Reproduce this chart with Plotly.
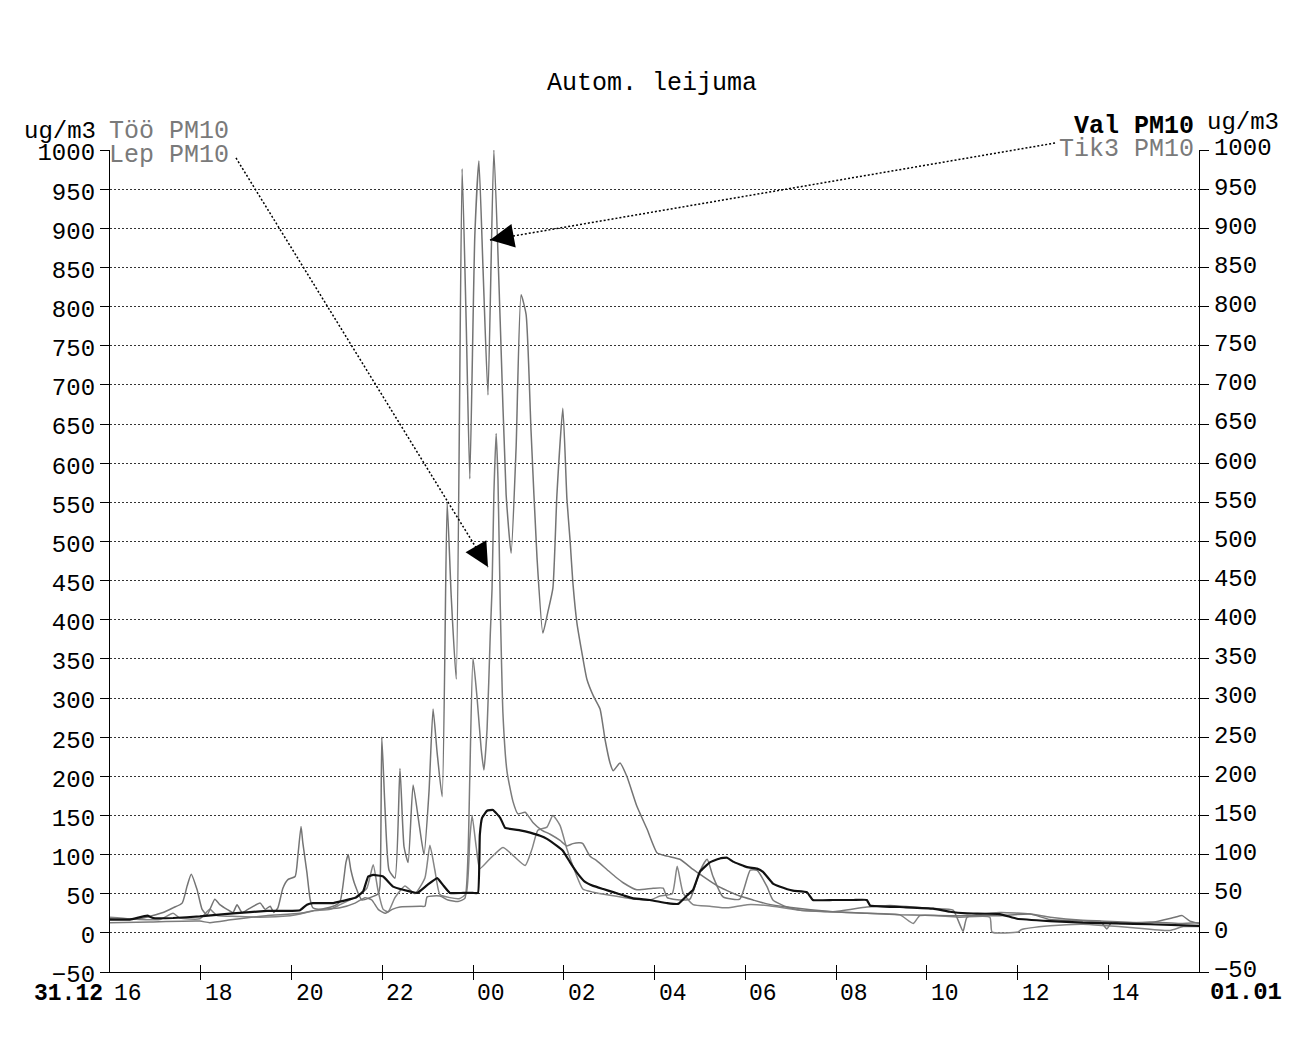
import plotly.graph_objects as go

# Time = hours after 31.12 16:00, values in ug/m3
tik3_pm10 = [(0.00,18),(0.66,18),(1.17,26),(1.39,32),(1.59,38),(1.70,60),(1.79,75),(1.92,55),(2.03,30),(2.14,23),
             (2.31,43),(2.42,36),(2.58,30),(2.71,26),(2.80,36),(2.91,26),(3.04,30),(3.31,38),(3.42,30),(3.53,34),
             (3.61,26),(3.70,32),(3.81,57),(3.92,68),(4.08,72),(4.14,98),(4.21,136),(4.25,115),(4.34,77),(4.41,43),
             (4.47,32),(4.63,30),(4.92,34),(5.07,40),(5.20,90),(5.25,100),(5.31,80),(5.40,61),(5.55,42),(5.73,45),
             (5.91,50),(5.95,60),(5.99,250),(6.06,160),(6.15,80),(6.28,70),(6.39,210),(6.48,110),(6.57,90),(6.68,189),
             (6.81,140),(6.92,100),(7.03,180),(7.12,286),(7.21,230),(7.32,174),(7.43,550),(7.52,430),(7.63,324),(7.76,976),
             (7.85,780),(7.93,580),(8.04,890),(8.13,986),(8.22,850),(8.33,687),(8.46,1000),(8.60,780),(8.73,560),(8.84,485),
             (8.95,620),(9.06,815),(9.17,790),(9.28,640),(9.41,480),(9.54,383),(9.65,410),(9.76,440),(9.85,560),(9.98,670),
             (10.07,554),(10.14,501),(10.20,448),(10.29,396),(10.40,358),(10.51,324),(10.65,303),(10.80,286),(10.91,247),(11.02,217),
             (11.09,207),(11.24,217),(11.39,200),(11.61,162),(11.84,132),(12.06,102),(12.28,98),(12.56,94),(12.85,81),(13.07,72),
             (13.38,60),(13.60,54),(13.88,47),(14.17,42),(14.48,37),(14.92,33),(15.93,27),(16.68,25),(17.41,23),(18.51,22),
             (19.61,22),(20.28,24),(20.72,17),(21.82,15),(22.92,13),(23.47,20),(23.63,22),(23.80,15),(24.00,12)]

lep_pm10 = [(0.00,13),(0.88,14),(1.98,15),(2.20,13),(2.71,17),(3.44,22),(4.19,25),(4.63,30),(5.07,32),(5.40,38),
            (5.62,45),(5.77,42),(5.91,30),(6.06,25),(6.22,30),(6.39,33),(6.83,34),(6.94,34),(6.99,46),(7.27,47),
            (7.45,42),(7.67,40),(7.82,44),(7.89,100),(7.93,200),(8.00,351),(8.09,300),(8.18,235),(8.24,208),(8.31,260),
            (8.38,380),(8.42,440),(8.46,560),(8.51,638),(8.55,580),(8.60,420),(8.66,280),(8.75,206),(8.88,168),(8.99,152),
            (9.15,154),(9.32,141),(9.52,131),(9.70,126),(9.92,118),(10.07,111),(10.20,114),(10.36,115),(10.42,114),(10.58,98),
            (10.73,92),(10.95,81),(11.13,72),(11.31,64),(11.61,55),(11.97,57),(12.19,57),(12.28,45),(12.56,42),(12.78,43),
            (13.00,79),(13.16,94),(13.29,72),(13.51,46),(13.88,43),(14.11,80),(14.26,80),(14.48,59),(14.61,42),(14.92,33),
            (15.21,29),(15.93,27),(16.68,33),(17.19,35),(18.14,31),(18.58,29),(18.80,2),(18.89,20),(19.61,26),(20.28,24),
            (20.72,20),(21.44,16),(21.82,15),(21.97,5),(22.08,14),(22.26,12),(22.92,14),(23.58,12),(24.00,13)]

too_pm10 = [(0.00,20),(0.44,18),(1.10,17),(1.39,25),(1.54,19),(1.98,18),(2.20,30),(2.36,22),(2.80,21),(3.31,20),
            (3.97,22),(4.19,24),(4.47,28),(4.85,30),(5.07,36),(5.44,47),(5.66,57),(5.80,87),(5.91,53),(6.02,30),
            (6.13,27),(6.28,45),(6.50,60),(6.72,50),(6.94,70),(7.05,112),(7.16,80),(7.27,49),(7.49,45),(7.71,44),
            (7.85,50),(7.93,120),(7.98,150),(8.07,110),(8.15,82),(8.38,95),(8.66,109),(8.88,99),(9.15,86),(9.30,107),
            (9.43,131),(9.63,135),(9.76,150),(9.92,137),(10.07,107),(10.25,78),(10.42,56),(10.65,52),(11.02,48),(11.46,44),
            (11.90,42),(12.12,47),(12.39,50),(12.50,85),(12.63,51),(12.85,36),(13.22,34),(13.60,32),(14.04,36),(14.48,35),
            (15.21,29),(15.93,27),(16.68,25),(17.41,23),(17.70,12),(17.85,22),(18.73,20),(19.39,20),(19.44,1),(20.01,1),
            (20.08,4),(20.72,9),(21.44,11),(21.97,9),(22.48,7),(23.36,3),(23.65,8),(24.00,8)]

val_pm10 = [(0.00,17),(0.44,17),(0.82,22),(0.95,19),(1.39,19),(1.98,21),(2.71,25),(3.46,28),(3.90,28),(4.19,29),
            (4.34,36),(4.47,38),(4.92,38),(5.29,43),(5.42,45),(5.58,53),(5.69,72),(5.80,74),(6.02,72),(6.24,59),
            (6.46,55),(6.77,51),(6.99,61),(7.21,70),(7.34,61),(7.49,51),(7.78,51),(8.00,51),(8.11,51),(8.15,125),
            (8.20,147),(8.31,156),(8.44,157),(8.60,147),(8.71,134),(9.04,131),(9.26,128),(9.48,124),(9.63,120),(9.85,111),
            (9.98,105),(10.14,90),(10.29,77),(10.47,65),(10.65,60),(10.87,56),(11.09,52),(11.31,48),(11.53,44),(11.90,42),
            (12.28,38),(12.52,37),(12.72,48),(12.85,55),(13.00,78),(13.22,90),(13.44,95),(13.60,96),(13.73,91),(14.04,84),
            (14.26,82),(14.39,78),(14.61,63),(14.77,59),(15.05,54),(15.36,52),(15.49,42),(15.93,42),(16.38,42),(16.68,42),
            (16.75,35),(17.41,33),(18.14,31),(18.51,27),(18.89,25),(19.61,24),(19.99,18),(20.72,15),(21.44,13),(22.19,12),
            (22.92,11),(24.00,9)]

y_ticks = list(range(-50, 1001, 50))
x_tick_hours = list(range(0, 25, 2))
x_tick_text = ["16", "18", "20", "22", "00", "02", "04", "06", "08", "10", "12", "14"]
start_date_label = "31.12"
end_date_label = "01.01"

FONT = "Liberation Mono, Courier New, monospace"
GREY = "#7a7a7a"


def xy(pairs):
    return [p[0] for p in pairs], [p[1] for p in pairs]


fig = go.Figure()
for pairs, col in [(too_pm10, "#858585"), (lep_pm10, "#7b7b7b"), (tik3_pm10, "#747474")]:
    x, y = xy(pairs)
    fig.add_trace(go.Scatter(x=x, y=y, mode="lines",
                             line=dict(color=col, width=1.5, shape="spline", smoothing=0.5),
                             xaxis="x", yaxis="y", hoverinfo="skip"))
x, y = xy(val_pm10)
fig.add_trace(go.Scatter(x=x, y=y, mode="lines",
                         line=dict(color="#111111", width=2.2, shape="spline", smoothing=0.3),
                         xaxis="x2", yaxis="y2", hoverinfo="skip"))

axis_common = dict(range=[0, 24], tickvals=x_tick_hours[1:-1], ticklen=7, tickcolor="black",
                   tickwidth=1.2, showticklabels=False, showgrid=False, zeroline=False)
yaxis_common = dict(range=[-50, 1000], tickvals=y_ticks, ticks="outside", ticklen=9, tickcolor="black",
                    tickwidth=1.2, tickfont=dict(family=FONT, size=24, color="black"),
                    zeroline=False, showline=True, linecolor="black", linewidth=1.3)

fig.update_layout(
    width=1297, height=1054,
    margin=dict(l=110, r=98, t=150, b=82, autoexpand=False),
    paper_bgcolor="white", plot_bgcolor="white",
    showlegend=False,
    xaxis=dict(**axis_common, ticks="outside", showline=True, linecolor="black", linewidth=1.3),
    xaxis2=dict(**axis_common, ticks="inside", overlaying="x", anchor="y2", side="bottom", showline=False),
    yaxis=dict(**yaxis_common, side="left", showgrid=True, gridcolor="#333333", gridwidth=1,
               griddash="2px,2px", ticklabelshift=2),
    yaxis2=dict(**yaxis_common, side="right", overlaying="y", anchor="x2", showgrid=False,
                ticklabelshift=-3),
)

ann = []
# x tick labels placed to the right of each tick
for h, txt in zip(x_tick_hours, x_tick_text):
    ann.append(dict(x=h, y=0, xref="x", yref="paper", text=txt, showarrow=False,
                    xanchor="left", yanchor="middle", xshift=2, yshift=-22,
                    font=dict(family=FONT, size=23, color="black")))
ann.append(dict(x=0, y=0, xref="x", yref="paper", text=f"<b>{start_date_label}</b>", showarrow=False,
                xanchor="right", yanchor="middle", xshift=-5, yshift=-22,
                font=dict(family=FONT, size=23, color="black")))
ann.append(dict(x=24, y=0, xref="x", yref="paper", text=f"<b>{end_date_label}</b>", showarrow=False,
                xanchor="left", yanchor="middle", xshift=9, yshift=-20,
                font=dict(family=FONT, size=24, color="black")))

# title and series labels
ann += [
    dict(x=0.4977, y=1.0815, xref="paper", yref="paper", text="Autom. leijuma", showarrow=False,
         xanchor="center", yanchor="middle", font=dict(family=FONT, size=25, color="black")),
    dict(x=-0.011, y=1.0231, xref="paper", yref="paper", text="ug/m3", showarrow=False,
         xanchor="right", yanchor="middle", font=dict(family=FONT, size=24, color="black")),
    dict(x=-0.003, y=1.0231, xref="paper", yref="paper", text="Töö PM10", showarrow=False,
         xanchor="left", yanchor="middle", font=dict(family=FONT, size=25, color=GREY)),
    dict(x=-0.003, y=0.9939, xref="paper", yref="paper", text="Lep PM10", showarrow=False,
         xanchor="left", yanchor="middle", font=dict(family=FONT, size=25, color=GREY)),
    dict(x=0.9972, y=1.0290, xref="paper", yref="paper", text="<b>Val PM10</b>", showarrow=False,
         xanchor="right", yanchor="middle", font=dict(family=FONT, size=25, color="black")),
    dict(x=1.0055, y=1.0330, xref="paper", yref="paper", text="ug/m3", showarrow=False,
         xanchor="left", yanchor="middle", font=dict(family=FONT, size=24, color="black")),
    dict(x=0.9972, y=1.0012, xref="paper", yref="paper", text="Tik3 PM10", showarrow=False,
         xanchor="right", yanchor="middle", font=dict(family=FONT, size=25, color=GREY)),
]

# pointer arrows from labels to series (dotted line + filled head)
pointers = [((0.1157, 0.9903), (0.3471, 0.4927), (-11, -19)),
            ((0.8678, 1.0085), (0.3489, 0.8905), (22, -4))]
shapes = []
for (x0, y0), (x1, y1), (ax, ay) in pointers:
    shapes.append(dict(type="line", xref="paper", yref="paper", x0=x0, y0=y0, x1=x1, y1=y1,
                       line=dict(color="black", width=1.5, dash="2px,2px")))
    ann.append(dict(x=x1, y=y1, xref="paper", yref="paper", text="", showarrow=True,
                    ax=ax, ay=ay, arrowhead=2, arrowsize=3.2, arrowwidth=1.5,
                    arrowcolor="black", standoff=0))

fig.update_layout(annotations=ann, shapes=shapes)

fig.write_html("out.html")
